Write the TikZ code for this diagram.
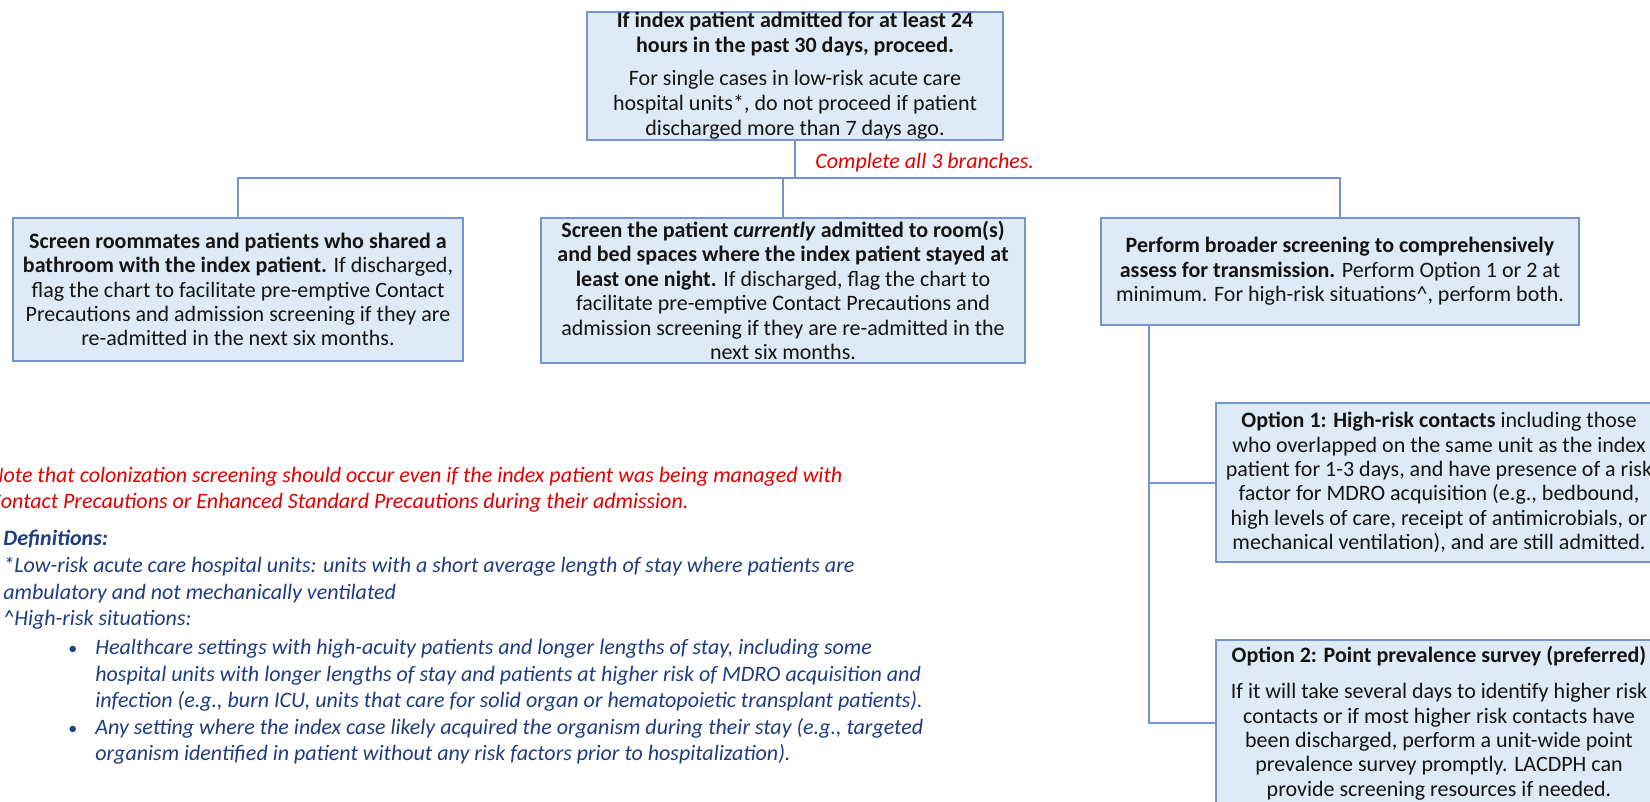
\documentclass[tikz,border=0pt]{standalone}
\usepackage{fontspec}
\setmainfont{Carlito}
\usepackage{xcolor}
\usepackage{tikz}
\usetikzlibrary{calc}

\definecolor{boxfill}{HTML}{DEEBF7}
\definecolor{boxline}{HTML}{7394CE}
\definecolor{notered}{HTML}{E00000}
\definecolor{notenavy}{HTML}{1F3B82}
\definecolor{boxtext}{HTML}{141414}

\begin{document}
\begin{tikzpicture}[x=0.5pt,y=-0.5pt,
  kasten/.style={draw=boxline,line width=1pt,fill=boxfill,align=center,inner sep=0pt,
    text=boxtext,font=\fontsize{11}{12.2}\selectfont},
  linie/.style={draw=boxline,line width=1pt},
  notiz/.style={anchor=north west,align=left,inner sep=0pt,font=\fontsize{11}{13.25}\selectfont\itshape}]
  \useasboundingbox (0,0) rectangle (1650,802);
  \clip (0,0) rectangle (1650,802);

  % Startkasten oben
  \node[kasten,minimum width=208pt,minimum height=63pt,font=\fontsize{11}{12.5}\selectfont] (start) at (795,76)
    {\textbf{If index patient admitted for at least 24}\\
     \textbf{hours in the past 30 days, proceed.}\\[4pt]
     For single cases in low-risk acute care\\
     hospital units*, do not proceed if patient\\
     discharged more than 7 days ago.};
  \coordinate (split) at (795,178);
  \draw[linie] (start.south) -- (split);
  \node[text=notered,font=\fontsize{11}{13}\selectfont\itshape,anchor=west,inner sep=0pt] (alle) at (815,163)
    {Complete all 3 branches.};

  % drei Zweige
  \node[kasten,minimum width=225pt,minimum height=71.5pt] (links) at (238,289.5)
    {\textbf{Screen roommates and patients who shared a}\\
     \textbf{bathroom with the index patient.} If discharged,\\
     flag the chart to facilitate pre-emptive Contact\\
     Precautions and admission screening if they are\\
     re-admitted in the next six months.};
  \node[kasten,minimum width=242pt,minimum height=72.5pt] (mitte) at (783,290.5)
    {\textbf{Screen the patient \textit{currently} admitted to room(s)}\\
     \textbf{and bed spaces where the index patient stayed at}\\
     \textbf{least one night.} If discharged, flag the chart to\\
     facilitate pre-emptive Contact Precautions and\\
     admission screening if they are re-admitted in the\\
     next six months.};
  \node[kasten,minimum width=239pt,minimum height=53.5pt] (rechts) at (1340,271.5)
    {\textbf{Perform broader screening to comprehensively}\\
     \textbf{assess for transmission.} Perform Option 1 or 2 at\\
     minimum. For high-risk situations\textasciicircum, perform both.};
  \draw[linie] (split) -| (links.north);
  \draw[linie] (split) -| (mitte.north);
  \draw[linie] (split) -| (rechts.north);

  % Optionen rechts
  \node[kasten,minimum width=223pt,minimum height=79.5pt] (opt1) at (1439,482.5)
    {\textbf{Option 1: High-risk contacts} including those\\
     who overlapped on the same unit as the index\\
     patient for 1-3 days, and have presence of a risk\\
     factor for MDRO acquisition (e.g., bedbound,\\
     high levels of care, receipt of antimicrobials, or\\
     mechanical ventilation), and are still admitted.};
  \node[kasten,minimum width=223pt,minimum height=83pt] (opt2) at (1439,723)
    {\textbf{Option 2: Point prevalence survey (preferred)}\\[6pt]
     If it will take several days to identify higher risk\\
     contacts or if most higher risk contacts have\\
     been discharged, perform a unit-wide point\\
     prevalence survey promptly. LACDPH can\\
     provide screening resources if needed.};
  \coordinate (gabel) at ($(rechts.south west)+(49,0)$);
  \draw[linie] (gabel) |- (opt1.west);
  \draw[linie] (gabel) |- (opt2.west);

  % Hinweise und Definitionen links unten
  \node[notiz,text=notered,font=\fontsize{11}{13}\selectfont\itshape] (hinweis) at (-11,467)
    {Note that colonization screening should occur even if the index patient was being managed with\\
     Contact Precautions or Enhanced Standard Precautions during their admission.};
  \node[notiz,text=notenavy,font=\fontsize{11}{13.3}\selectfont\itshape] (defs) at (3,530)
    {\textbf{Definitions:}\\
     *Low-risk acute care hospital units: units with a short average length of stay where patients are\\
     ambulatory and not mechanically ventilated\\
     \textasciicircum High-risk situations:};
  \node[notiz,text=notenavy] (punkte) at (68,639)
    {\makebox[13.5pt][l]{\upshape\small\textbullet}Healthcare settings with high-acuity patients and longer lengths of stay, including some\\
     \hspace*{13.5pt}hospital units with longer lengths of stay and patients at higher risk of MDRO acquisition and\\
     \hspace*{13.5pt}infection (e.g., burn ICU, units that care for solid organ or hematopoietic transplant patients).\\
     \makebox[13.5pt][l]{\upshape\small\textbullet}Any setting where the index case likely acquired the organism during their stay (e.g., targeted\\
     \hspace*{13.5pt}organism identified in patient without any risk factors prior to hospitalization).};
\end{tikzpicture}
\end{document}
